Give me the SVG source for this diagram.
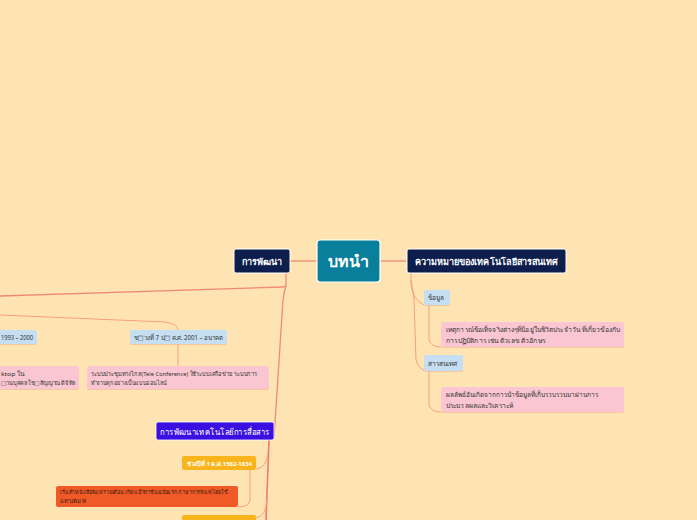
<svg xmlns="http://www.w3.org/2000/svg" width="697" height="520" viewBox="0 0 697 520">
<defs>
<style>
.bg{fill:#fee4b3}
.t{font-family:"Noto Sans","DejaVu Sans",sans-serif}
.w{fill:#ffffff}
.d{fill:#333333}
.main{fill:#0d1d4c;stroke:#ffffff;stroke-width:1}
.lb{fill:#c6def1}
.pk{fill:#f9c6d1}
.sh{fill:#f0b48c;opacity:0.6}
.c1{fill:none;stroke:#f08a78;stroke-width:1.3}
.c2{fill:none;stroke:#f4a07c;stroke-width:1}
.c3{fill:none;stroke:#f07a70;stroke-width:1.6}
</style>
</defs>
<rect class="bg" x="0" y="0" width="697" height="520"/>
<g id="connectors">
<path class="c1" d="M317 261 H290"/>
<path class="c1" d="M380 261 H407"/>
<path class="c1" d="M286 273 V284 Q286 287 282 287 L0 296"/>
<path class="c1" d="M286 285 Q284 292 283 300 L274 438"/>
<path class="c2" d="M0 315 L165 322 Q178 324 178 330"/>
<path class="c2" d="M178 344 V366"/>
<path class="c2" d="M411 273 V285 Q413 300 424 305"/>
<path class="c2" d="M411 280 Q413 290 414 300 L416 360 Q418 368 424 370"/>
<path class="c2" d="M429 305 V340 Q431 347 441 347"/>
<path class="c2" d="M429 371 V405 Q431 412 441 412"/>
<path class="c3" d="M269 440 L266 520"/>
<path class="c2" d="M268 452 Q267 468 256 469"/>
<path class="c2" d="M250 470 V500 Q249 507 238 507"/>
<path class="c2" d="M267 500 Q266 516 256 518"/>
</g>
<g id="n-center">
<rect x="317" y="240" width="63" height="42" rx="3" fill="#0a7f9b" stroke="#ffffff" stroke-width="1.2"/>
<text class="t w" x="348.5" y="267" font-size="16" font-weight="bold" text-anchor="middle">บทนำ</text>
</g>
<g id="n-dev">
<rect class="main" x="234" y="249" width="56" height="24" rx="2"/>
<text class="t w" x="262" y="264.5" font-size="9" font-weight="bold" text-anchor="middle">การพัฒนา</text>
</g>
<g id="n-meaning">
<rect class="main" x="407" y="249" width="159" height="24" rx="2"/>
<text class="t w" x="415" y="264.5" font-size="9" font-weight="bold" textLength="143" lengthAdjust="spacingAndGlyphs">ความหมายของเทคโนโลยีสารสนเทศ</text>
</g>
<g id="n-data">
<rect class="sh" x="424" y="291" width="26" height="15" rx="2"/>
<rect class="lb" x="424" y="290" width="26" height="15" rx="2"/>
<text class="t d" x="428" y="300" font-size="6.5">ข้อมูล</text>
</g>
<g id="n-data-desc">
<rect class="sh" x="441" y="323" width="183" height="25" rx="2"/>
<rect class="pk" x="441" y="322" width="183" height="25" rx="2"/>
<text class="t d" x="446" y="332" font-size="6.5" textLength="174" lengthAdjust="spacingAndGlyphs">เหตุการณ์ข้อเท็จจริงต่างๆที่มีอยู่ในชีวิตประจำวัน ที่เกี่ยวข้องกับ</text>
<text class="t d" x="446" y="343" font-size="6.5" textLength="99" lengthAdjust="spacingAndGlyphs">การปฏิบัติการ เช่น ตัวเลข ตัวอักษร</text>
</g>
<g id="n-info">
<rect class="sh" x="424" y="356" width="39" height="16" rx="2"/>
<rect class="lb" x="424" y="355" width="39" height="16" rx="2"/>
<text class="t d" x="428" y="366" font-size="6.5">สารสนเทศ</text>
</g>
<g id="n-info-desc">
<rect class="sh" x="441" y="388" width="183" height="25" rx="2"/>
<rect class="pk" x="441" y="387" width="183" height="25" rx="2"/>
<text class="t d" x="446" y="397" font-size="6.5" textLength="152" lengthAdjust="spacingAndGlyphs">ผลลัพธ์อันเกิดจากการนำข้อมูลที่เก็บรวบรวมมาผ่านการ</text>
<text class="t d" x="446" y="408" font-size="6.5" textLength="67" lengthAdjust="spacingAndGlyphs">ประมวลผลและวิเคราะห์</text>
</g>
<g id="n-p6">
<rect class="sh" x="-5" y="331" width="42" height="14" rx="2"/>
<rect class="lb" x="-5" y="330" width="42" height="14" rx="2"/>
<text class="t d" x="1" y="339.5" font-size="6.5" textLength="32" lengthAdjust="spacingAndGlyphs">1993 – 2000</text>
</g>
<g id="n-p6-desc">
<rect class="sh" x="-5" y="367" width="84" height="23" rx="2"/>
<rect class="pk" x="-5" y="366" width="84" height="23" rx="2"/>
<text class="t d" x="1" y="375.5" font-size="6" textLength="24" lengthAdjust="spacingAndGlyphs">ktop ใน</text>
<text class="t d" x="1" y="385" font-size="6" textLength="75" lengthAdjust="spacingAndGlyphs">□วนบุคคลใช□สัญญาณดิจิทัล</text>
</g>
<g id="n-p7">
<rect class="sh" x="130" y="331" width="97" height="14" rx="2"/>
<rect class="lb" x="130" y="330" width="97" height="14" rx="2"/>
<text class="t d" x="134" y="339.5" font-size="6.5" textLength="89" lengthAdjust="spacingAndGlyphs">ช□วงที่ 7 ป□ ค.ศ. 2001 – อนาคต</text>
</g>
<g id="n-p7-desc">
<rect class="sh" x="87" y="367" width="182" height="23" rx="2"/>
<rect class="pk" x="87" y="366" width="182" height="23" rx="2"/>
<text class="t d" x="91" y="375.5" font-size="6" textLength="166" lengthAdjust="spacingAndGlyphs">ระบบประชุมทางไกล(Tele Conference) ใช้ระบบเครือข่าย ระบบการ</text>
<text class="t d" x="91" y="385" font-size="6" textLength="76" lengthAdjust="spacingAndGlyphs">ทำงานทุกอย่างเป็นแบบออนไลน์</text>
</g>
<g id="n-comm">
<rect x="156" y="422" width="118" height="18" rx="2" fill="#3a0fe0" stroke="#ffffff" stroke-width="0.8"/>
<text class="t w" x="160" y="434.5" font-size="8.5" textLength="110" lengthAdjust="spacingAndGlyphs">การพัฒนาเทคโนโลยีการสื่อสาร</text>
</g>
<g id="n-c1">
<rect x="182" y="456" width="74" height="14" rx="2" fill="#f7b51b"/>
<text class="t w" x="187" y="465.5" font-size="6" font-weight="bold" textLength="65" lengthAdjust="spacingAndGlyphs">ช่วงปีที่ 1 ค.ศ.1562-1834</text>
</g>
<g id="n-c1-desc">
<rect x="56" y="486" width="182" height="21" rx="2" fill="#f05a27"/>
<text class="t" x="60" y="494" font-size="5.5" fill="#3a1a10" textLength="168" lengthAdjust="spacingAndGlyphs">เริ่มทำหนังสือพิมพ์รายเดือน เกิดแม็กกาซีนฉบับแรก ภาษาการพิมพ์โดยใช้</text>
<text class="t" x="60" y="503" font-size="5.5" fill="#3a1a10" textLength="26" lengthAdjust="spacingAndGlyphs">แท่นพิมพ์</text>
</g>
<g id="n-c2">
<rect x="182" y="515" width="74" height="14" rx="2" fill="#f7b51b"/>
</g>
</svg>
